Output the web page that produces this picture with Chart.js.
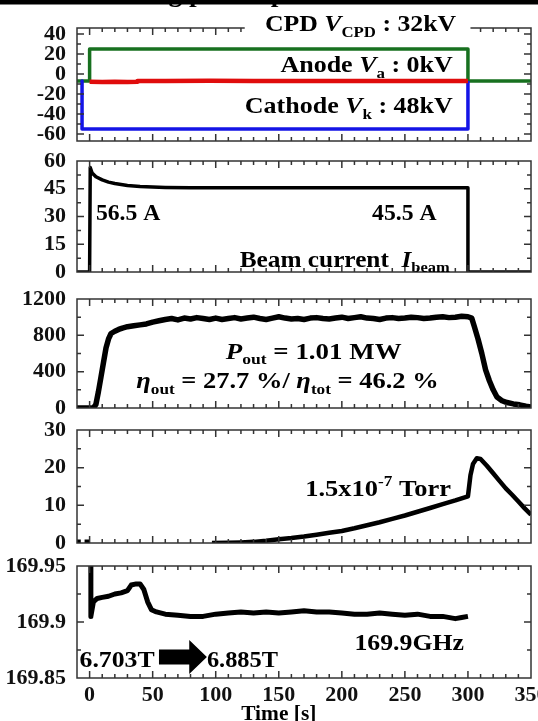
<!DOCTYPE html>
<html>
<head>
<meta charset="utf-8">
<script src="https://cdn.jsdelivr.net/npm/chart.js@4.4.0/dist/chart.umd.min.js"></script>
<style>
  html, body { margin: 0; padding: 0; background: #fff; }
  #wrap { position: relative; width: 538px; height: 721px; overflow: hidden; }
  #wrap canvas { position: absolute; left: 0; top: 0; }
</style>
</head>
<body>
<div id="wrap">
  <canvas id="cVolt" width="538" height="721"></canvas>
  <canvas id="cBeam" width="538" height="721"></canvas>
  <canvas id="cPower" width="538" height="721"></canvas>
  <canvas id="cPres" width="538" height="721"></canvas>
  <canvas id="cFreq" width="538" height="721"></canvas>
</div>
<script>
// time axis [s]
const timeTicks = [0, 50, 100, 150, 200, 250, 300, 350];

// electrode voltages [kV]
const cpdTime = [-10, 0, 0, 300, 300, 350];
const cpdKV = [-7, -7, 25, 25, -7, -7];
const anodeTime = [0, 10, 20, 30, 38, 38, 60, 95, 130, 170, 210, 250, 300];
const anodeKV = [-7.8, -7.9, -7.7, -7.9, -7.8, -7.1, -7, -6.8, -7, -7, -6.9, -7, -7];
const cathodeTime = [-6, -6, 300, 300];
const cathodeKV = [-7, -55, -55, -7];
const voltTicks = [-60, -40, -20, 0, 20, 40];

// beam current [A]
const beamTime = [-10, 0, 0.5, 2, 5, 10, 15, 20, 30, 40, 50, 60, 80, 100, 150, 200, 250, 300, 300, 350];
const beamA = [0, 0, 56.5, 53.5, 51.5, 49.8, 48.6, 47.8, 46.8, 46.2, 45.9, 45.7, 45.6, 45.5, 45.5, 45.5, 45.5, 45.5, 0, 0];
const beamTicks = [0, 15, 30, 45, 60];

// output power [kW]
const powerTime = [-10, 3, 5, 7, 9, 11, 13, 15, 17, 20, 23, 26, 30, 35, 40, 45, 50, 55, 60,
  65, 70, 75, 80, 85, 90, 95, 100, 105, 110, 115, 120, 125, 130, 135, 140, 145, 150,
  155, 160, 165, 170, 175, 180, 185, 190, 195, 200, 205, 210, 215, 220, 225, 230, 235, 240, 245, 250,
  255, 260, 265, 270, 275, 280, 285, 290, 295, 300,
  303, 305, 308, 311, 314, 317, 320, 323, 327, 331, 336, 341, 346, 350];
const powerKW = [0, 0, 40, 180, 340, 500, 660, 760, 820, 845, 865, 880, 895, 905, 915, 925, 945, 960, 975,
  985, 970, 990, 980, 995, 985, 975, 990, 975, 985, 995, 980, 990, 1000, 985, 975, 990, 1005,
  990, 980, 985, 975, 990, 995, 985, 980, 990, 1000, 985, 995, 1005, 990, 985, 975, 990, 995, 985, 990,
  1000, 995, 985, 990, 1000, 1005, 995, 1000, 1010, 1005,
  990, 900, 760, 600, 420, 300, 200, 120, 80, 60, 45, 35, 20, 10];
const powerTicks = [0, 400, 800, 1200];

// vacuum pressure
const presTime = [-10, -7, -6, -4, 0, 50, 97, 110, 120, 130, 140, 150, 160, 170, 180, 190, 200,
  210, 220, 230, 240, 250, 260, 270, 280, 290, 300, 302, 304, 307, 310,
  315, 320, 325, 330, 335, 340, 345, 350];
const presVal = [0.3, 0.3, null, 0.3, 0.3, null, 0, 0.05, 0.15, 0.3, 0.6, 1.0, 1.3, 1.7, 2.2, 2.7, 3.2,
  3.9, 4.7, 5.5, 6.4, 7.3, 8.3, 9.3, 10.3, 11.3, 12.4, 18, 21, 22.5, 22.3,
  20.5, 18.5, 16.5, 14.5, 12.8, 11.0, 9.2, 7.5];
const presTicks = [0, 10, 20, 30];

// oscillation frequency [GHz]
const freqTime = [1, 1, 3, 6, 10, 15, 20, 25, 30, 33, 37, 40, 43, 46, 49, 53, 60,
  70, 80, 90, 100, 110, 120, 130, 140, 150, 160, 170, 180, 190, 200, 210, 220, 230, 240, 250,
  260, 270, 280, 290, 295, 300];
const freqGHz = [169.95, 169.905, 169.918, 169.921, 169.922, 169.923, 169.925, 169.926, 169.928, 169.933,
  169.934, 169.934, 169.929, 169.918, 169.911, 169.909, 169.907,
  169.906, 169.905, 169.905, 169.907, 169.908, 169.909, 169.908, 169.909, 169.908, 169.909, 169.910,
  169.909, 169.909, 169.908, 169.907, 169.907, 169.908, 169.907, 169.906, 169.907, 169.905, 169.905,
  169.903, 169.904, 169.905];
const freqTicks = [169.85, 169.9, 169.95];

const SERIF = '"Liberation Serif", "Times New Roman", serif';

function zip(xs, ys) {
  return xs.map((x, i) => ({x: x, y: ys[i]}));
}

// text made of runs: plain, italic, subscript, superscript
function drawRich(ctx, parts, x, y, size, align, sx) {
  const fontFor = p => (p.it ? 'italic ' : '') + 'bold ' + ((p.sub || p.sup) ? Math.round(size * 0.66) : size) + 'px ' + SERIF;
  let w = 0;
  const widths = parts.map(p => { ctx.font = fontFor(p); const m = ctx.measureText(p.t).width; w += m; return m; });
  ctx.save();
  ctx.translate(x, y);
  ctx.scale(sx, 1);
  let cx = align === 'right' ? -w : (align === 'center' ? -w / 2 : 0);
  ctx.textAlign = 'left';
  ctx.textBaseline = 'alphabetic';
  ctx.fillStyle = '#000';
  parts.forEach((p, i) => {
    ctx.font = fontFor(p);
    const dy = p.sub ? size * 0.24 : (p.sup ? -size * 0.4 : 0);
    ctx.fillText(p.t, cx, dy);
    cx += widths[i];
  });
  ctx.restore();
}

function eachTick(min, max, step, major, fn) {
  const eps = step * 1e-4;
  for (let i = Math.ceil(min / step - 1e-6); i * step <= max + eps; i++) {
    const v = i * step;
    if (v <= min + eps || v >= max - eps) continue;
    const r = v / major;
    fn(v, Math.abs(r - Math.round(r)) < 1e-4);
  }
}

// box round the plot area, inward ticks on all four sides, and the notes
const panelFrame = {
  id: 'panelFrame',
  afterDatasetsDraw(chart, args, opts) {
    const ctx = chart.ctx, a = chart.chartArea;
    const xs = chart.scales.x, ys = chart.scales.y;
    ctx.save();
    ctx.strokeStyle = '#333';
    ctx.lineWidth = 1.5;
    ctx.strokeRect(a.left, a.top, a.right - a.left, a.bottom - a.top);
    ctx.beginPath();
    eachTick(xs.min, xs.max, 10, 50, (v, major) => {
      const px = xs.getPixelForValue(v), len = major ? 7 : 4;
      ctx.moveTo(px, a.bottom); ctx.lineTo(px, a.bottom - len);
      ctx.moveTo(px, a.top); ctx.lineTo(px, a.top + len);
    });
    eachTick(ys.min, ys.max, opts.minor, opts.major, (v, major) => {
      const py = ys.getPixelForValue(v), len = major ? 7 : 4;
      ctx.moveTo(a.left, py); ctx.lineTo(a.left + len, py);
      ctx.moveTo(a.right, py); ctx.lineTo(a.right - len, py);
    });
    ctx.stroke();

    (opts.notes || []).forEach(n => {
      if (n.box) {
        const b = n.box;
        ctx.fillStyle = '#fff';
        const x0 = xs.getPixelForValue(b.x0), x1 = xs.getPixelForValue(b.x1);
        const y0 = ys.getPixelForValue(b.y0), y1 = ys.getPixelForValue(b.y1);
        ctx.fillRect(x0, y0, x1 - x0, y1 - y0);
      }
      drawRich(ctx, n.parts, xs.getPixelForValue(n.x), ys.getPixelForValue(n.y), n.size || 23, n.align || 'left', n.sx || 1.12);
    });

    if (opts.arrow) {
      const r = opts.arrow;
      const x0 = xs.getPixelForValue(r.from), x1 = xs.getPixelForValue(r.neck), x2 = xs.getPixelForValue(r.tip);
      const yc = ys.getPixelForValue(r.y);
      const bh = Math.abs(ys.getPixelForValue(r.y + r.body) - yc);
      const hh = Math.abs(ys.getPixelForValue(r.y + r.head) - yc);
      ctx.fillStyle = '#000';
      ctx.beginPath();
      ctx.moveTo(x0, yc - bh); ctx.lineTo(x1, yc - bh); ctx.lineTo(x1, yc - hh);
      ctx.lineTo(x2, yc); ctx.lineTo(x1, yc + hh); ctx.lineTo(x1, yc + bh);
      ctx.lineTo(x0, yc + bh); ctx.closePath();
      ctx.fill();
    }

    if (opts.heading) {
      // figure heading, cut off by the black strip at the top
      const h = opts.heading;
      drawRich(ctx, [{t: h.text}], h.px, h.py, 25, 'left', 1.1);
      ctx.fillStyle = '#000';
      ctx.fillRect(0, 0, chart.width, 4.5);
    }
    ctx.restore();
  }
};

function makePanel(id, top, bottom, datasets, y, frame, showTime) {
  // the bottom panel keeps room below its plot for the time labels
  const xHeight = showTime ? 721 - bottom : 0;
  return new Chart(document.getElementById(id), {
    type: 'line',
    data: {datasets: datasets},
    plugins: [panelFrame],
    options: {
      responsive: false,
      animation: false,
      devicePixelRatio: 1,
      layout: {padding: {top: top, bottom: 721 - bottom - xHeight, left: 0, right: 7}},
      plugins: {legend: {display: false}, tooltip: {enabled: false}, panelFrame: frame},
      elements: {point: {radius: 0}, line: {tension: 0, borderJoinStyle: 'round'}},
      spanGaps: false,
      scales: {
        x: {
          type: 'linear',
          min: -10,
          max: 350,
          afterBuildTicks: ax => { ax.ticks = timeTicks.map(v => ({value: v})); },
          afterFit: ax => { ax.height = xHeight; ax.paddingLeft = 0; ax.paddingRight = 0; },
          grid: {display: false, drawTicks: false},
          border: {display: false},
          ticks: {
            display: showTime,
            autoSkip: false,
            maxRotation: 0,
            padding: 4,
            color: '#111',
            font: {family: SERIF, size: 22, weight: 'bold'}
          }
        },
        y: {
          type: 'linear',
          min: y.min,
          max: y.max,
          afterBuildTicks: ax => { ax.ticks = y.ticks.map(v => ({value: v})); },
          afterFit: ax => { ax.width = 77; ax.paddingTop = 0; ax.paddingBottom = 0; },
          grid: {display: false, drawTicks: false},
          border: {display: false},
          ticks: {
            autoSkip: false,
            padding: 11,
            color: '#111',
            font: {family: SERIF, size: 22, weight: 'bold'},
            callback: v => String(+v.toFixed(2))
          }
        }
      }
    }
  });
}

function trace(xs, ys, color, width, order) {
  return {data: zip(xs, ys), borderColor: color, borderWidth: width, order: order || 0};
}

// electrode voltages
makePanel('cVolt', 28, 141, [
  trace(anodeTime, anodeKV, '#e00c0c', 4.5, 0),
  trace(cathodeTime, cathodeKV, '#1414e6', 3.5, 1),
  trace(cpdTime, cpdKV, '#17701f', 3.5, 2)
], {min: -67, max: 46, ticks: voltTicks}, {
  minor: 10, major: 20,
  heading: {text: 'Long pulse operation', px: 121, py: 1.5},
  notes: [
    {x: 139, y: 43, box: {x0: 123, x1: 302, y0: 63, y1: 37},
      parts: [{t: 'CPD '}, {t: 'V', it: 1}, {t: 'CPD', sub: 1}, {t: ' : 32kV'}]},
    {x: 288, y: 2, align: 'right', sx: 1.13,
      parts: [{t: 'Anode '}, {t: 'V', it: 1}, {t: 'a', sub: 1}, {t: ' : 0kV'}]},
    {x: 288, y: -39, align: 'right', sx: 1.13,
      parts: [{t: 'Cathode '}, {t: 'V', it: 1}, {t: 'k', sub: 1}, {t: ' : 48kV'}]}
  ]
}, false);

// beam current
makePanel('cBeam', 161, 272, [
  trace(beamTime, beamA, '#000', 3.5)
], {min: 0, max: 60, ticks: beamTicks}, {
  minor: 7.5, major: 15,
  notes: [
    {x: 5, y: 28, sx: 1.03, parts: [{t: '56.5 A'}]},
    {x: 224, y: 28, sx: 1.03, parts: [{t: '45.5 A'}]},
    {x: 119, y: 2.8, sx: 1.1, parts: [{t: 'Beam current  '}, {t: 'I', it: 1}, {t: 'beam', sub: 1}]}
  ]
}, false);

// output power
makePanel('cPower', 299, 408, [
  trace(powerTime, powerKW, '#000', 5.5)
], {min: 0, max: 1200, ticks: powerTicks}, {
  minor: 200, major: 400,
  notes: [
    {x: 108, y: 540, sx: 1.17, parts: [{t: 'P', it: 1}, {t: 'out', sub: 1}, {t: ' = 1.01 MW'}]},
    {x: 37, y: 216, sx: 1.15, parts: [{t: 'η', it: 1}, {t: 'out', sub: 1}, {t: ' = 27.7 %/ '},
      {t: 'η', it: 1}, {t: 'tot', sub: 1}, {t: ' = 46.2 %'}]}
  ]
}, false);

// pressure
makePanel('cPres', 430, 543, [
  trace(presTime, presVal, '#000', 4.5)
], {min: 0, max: 30, ticks: presTicks}, {
  minor: 5, major: 10,
  notes: [
    {x: 171, y: 12.6, sx: 1.15, parts: [{t: '1.5x10'}, {t: '-7', sup: 1}, {t: ' Torr'}]}
  ]
}, false);

// frequency
makePanel('cFreq', 566, 678, [
  trace(freqTime, freqGHz, '#000', 5)
], {min: 169.85, max: 169.95, ticks: freqTicks}, {
  minor: 0.025, major: 0.05,
  arrow: {from: 55, neck: 79, tip: 93, y: 169.8688, body: 0.0067, head: 0.0152},
  notes: [
    {x: 210, y: 169.875, parts: [{t: '169.9GHz'}]},
    {x: -8, y: 169.8598, parts: [{t: '6.703T'}]},
    {x: 93, y: 169.8598, sx: 1.06, parts: [{t: '6.885T'}]},
    {x: 150, y: 169.8125, align: 'center', size: 21, sx: 1.02, parts: [{t: 'Time [s]'}]}
  ]
}, true);
</script>
</body>
</html>
